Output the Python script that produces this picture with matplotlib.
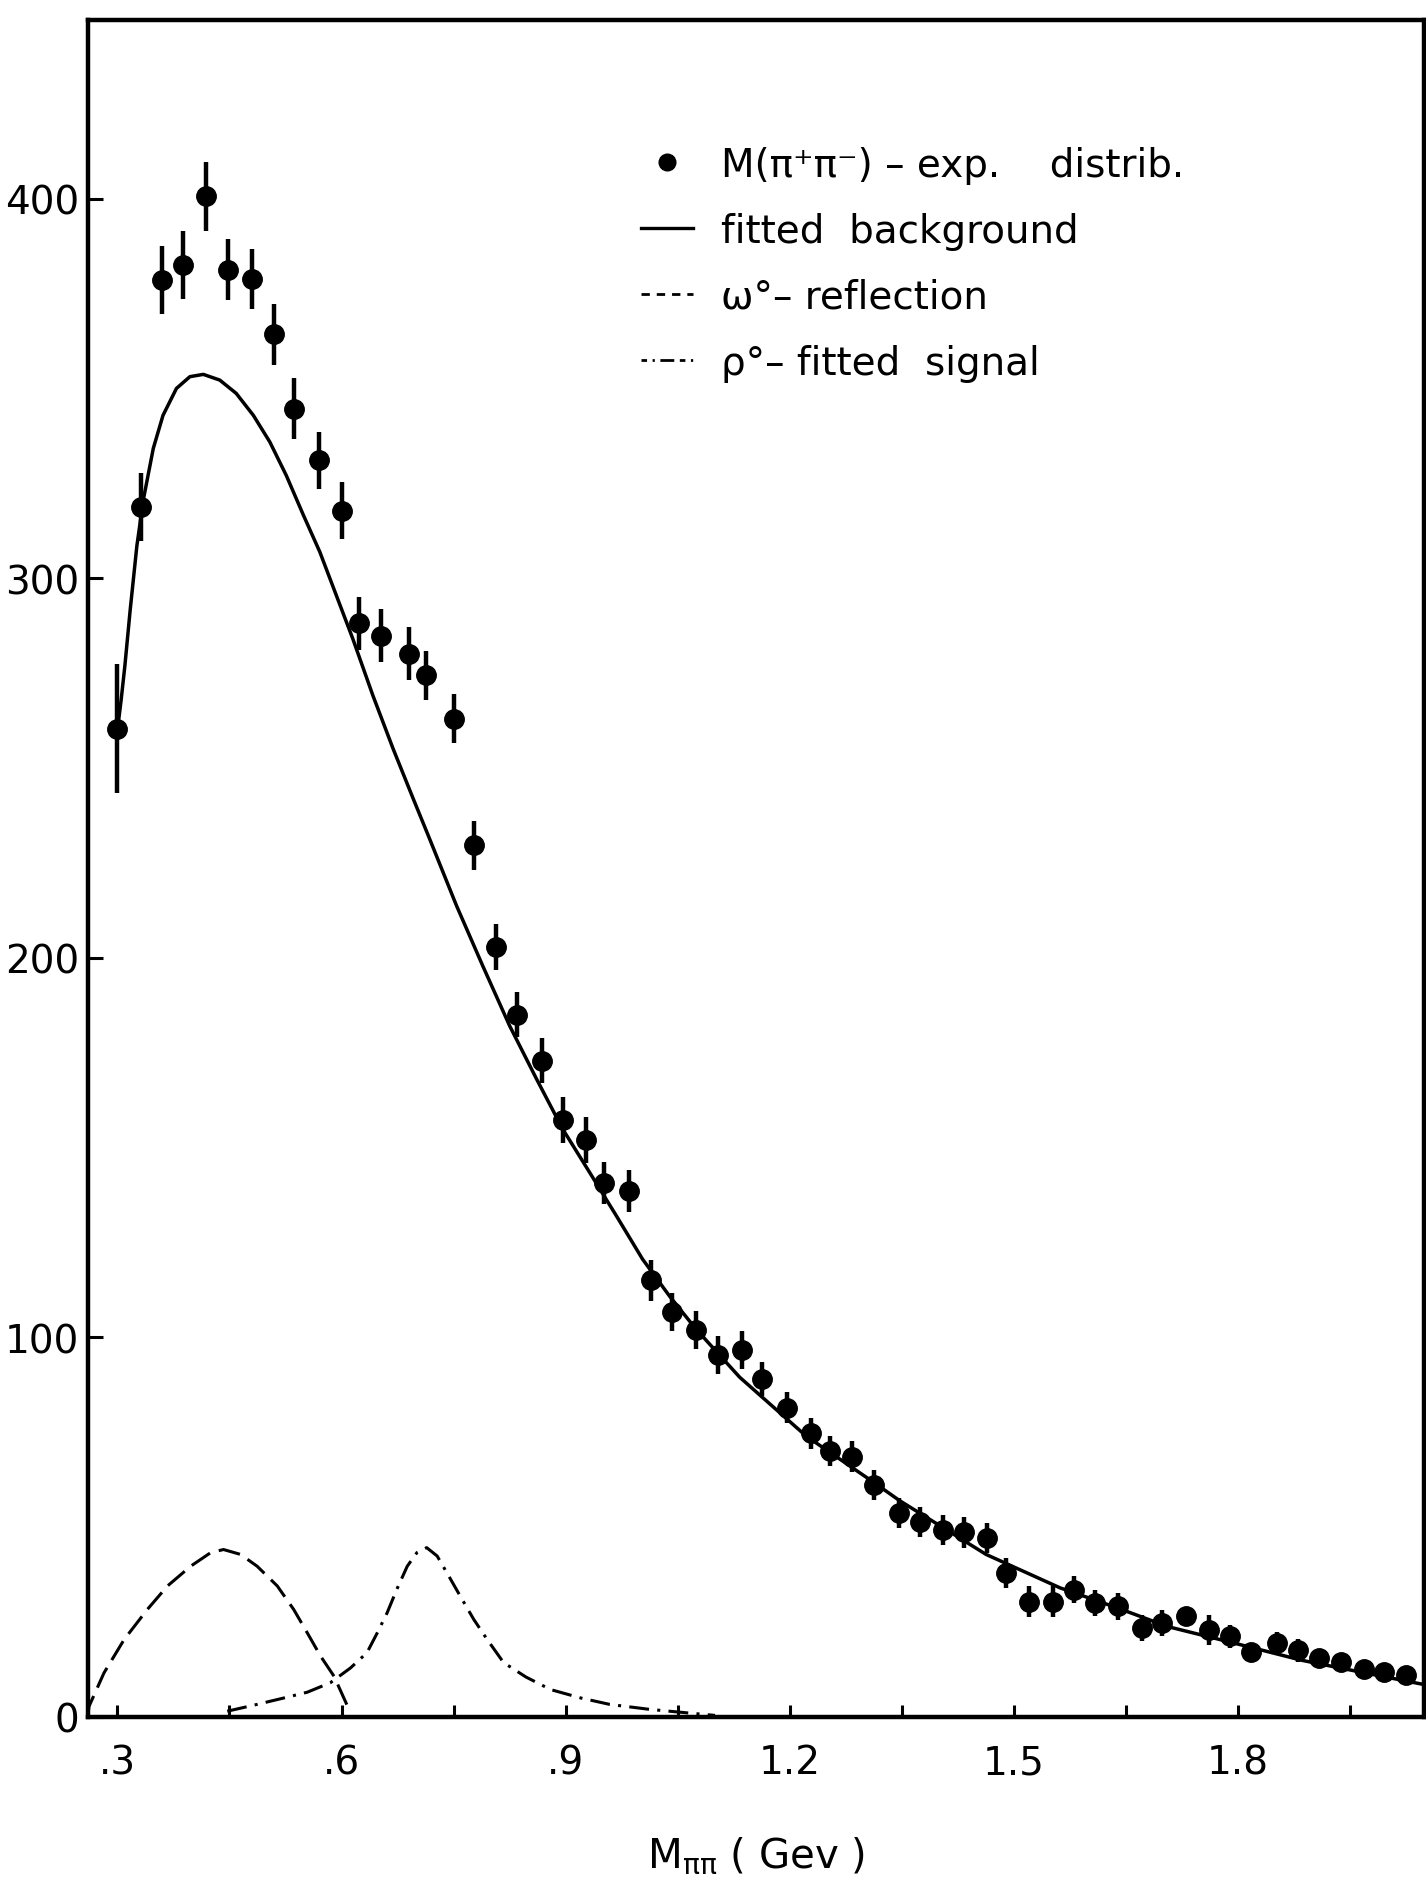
"""
pipi_mass_spectrum.py
---------------------
Redraw of the M(pi+ pi-) invariant mass distribution with the fitted
background, the omega reflection and the fitted rho signal.

Produces:
    out.png
"""

import matplotlib
matplotlib.use("Agg")

import matplotlib.pyplot as plt
from matplotlib.lines import Line2D
from matplotlib.ticker import FixedLocator, FixedFormatter


# ---------------------------------------------------------
# Data
# ---------------------------------------------------------
mass = [0.300, 0.332, 0.359, 0.388, 0.419, 0.448, 0.480, 0.510, 0.537, 0.570,
        0.600, 0.624, 0.653, 0.690, 0.713, 0.750, 0.777, 0.807, 0.835, 0.868,
        0.896, 0.927, 0.951, 0.985, 1.014, 1.043, 1.075, 1.104, 1.136, 1.163,
        1.196, 1.228, 1.254, 1.284, 1.313, 1.347, 1.374, 1.405, 1.433, 1.464,
        1.489, 1.521, 1.552, 1.580, 1.609, 1.640, 1.671, 1.699, 1.731, 1.761,
        1.790, 1.818, 1.852, 1.881, 1.908, 1.938, 1.969, 1.995, 2.025]

counts = [260.3, 318.7, 378.5, 382.6, 400.6, 381.3, 378.8, 364.3, 344.7, 331.1,
          317.8, 288.1, 284.9, 280.1, 274.4, 263.0, 229.6, 202.8, 185.0, 172.9,
          157.2, 152.0, 140.6, 138.6, 115.0, 106.6, 102.0, 95.3, 96.6, 89.0,
          81.5, 74.7, 70.1, 68.6, 61.1, 53.8, 51.3, 49.2, 48.6, 47.1,
          37.9, 30.4, 30.4, 33.5, 30.0, 29.1, 23.4, 24.7, 26.6, 22.9,
          21.2, 17.2, 19.4, 17.6, 15.4, 14.5, 12.7, 11.8, 11.0]

count_err = [17, 9, 9, 9, 9, 8, 8, 8, 8, 7.5,
             7.5, 7, 7, 7, 6.5, 6.5, 6.5, 6, 6, 6,
             6, 6, 5.5, 5.5, 5.5, 5, 5, 5, 5, 4.5,
             4, 4, 4, 4, 4, 4, 4, 4, 4, 4,
             4, 4, 4, 3.5, 3.5, 3.5, 3.5, 3.5, 0, 4,
             3, 0, 3, 3, 2, 2, 2, 2, 2]

bg_mass = [0.300, 0.305, 0.310, 0.317, 0.326, 0.335, 0.348, 0.361, 0.379, 0.397,
           0.415, 0.437, 0.459, 0.482, 0.504, 0.526, 0.549, 0.571, 0.593, 0.615,
           0.642, 0.669, 0.696, 0.718, 0.754, 0.789, 0.825, 0.861, 0.896, 0.932,
           0.968, 1.003, 1.039, 1.074, 1.133, 1.222, 1.311, 1.347, 1.463, 1.562,
           1.639, 1.706, 1.796, 1.886, 1.975, 2.050]
bg_counts = [260.0, 268.0, 277.0, 291.5, 308.5, 321.0, 334.2, 342.9, 350.0, 353.1,
             353.7, 352.2, 348.7, 342.9, 335.9, 327.1, 316.6, 306.9, 295.5, 284.1,
             269.1, 255.1, 241.9, 231.3, 213.7, 197.9, 182.1, 168.1, 154.9, 143.5,
             132.0, 120.6, 110.9, 102.3, 89.5, 74.0, 62.0, 57.0, 42.8, 34.0,
             28.7, 23.8, 19.4, 14.9, 11.4, 8.5]

omega_mass = [0.260, 0.262, 0.282, 0.309, 0.340, 0.367, 0.398, 0.425, 0.442, 0.465,
              0.487, 0.514, 0.536, 0.554, 0.572, 0.590, 0.612]
omega_counts = [0.0, 2.8, 11.6, 20.4, 28.3, 34.5, 39.7, 43.3, 44.1, 42.8,
                39.7, 34.5, 28.3, 22.2, 16.0, 10.7, 1.1]

rho_mass = [0.447, 0.487, 0.523, 0.554, 0.585, 0.612, 0.634, 0.648, 0.661, 0.674,
            0.688, 0.701, 0.714, 0.728, 0.741, 0.759, 0.777, 0.795, 0.817, 0.847,
            0.880, 0.920, 0.959, 1.012, 1.061, 1.100]
rho_counts = [1.5, 3.3, 5.0, 6.5, 9.0, 12.9, 16.9, 22.2, 27.4, 33.6,
              39.7, 43.3, 44.6, 42.4, 38.0, 31.8, 25.7, 20.4, 14.3, 10.5,
              7.2, 5.0, 3.3, 2.0, 1.1, 0.4]

x_ticks = [0.30, 0.45, 0.60, 0.75, 0.90, 1.05, 1.20, 1.35, 1.50, 1.65, 1.80, 1.95]
x_tick_labels = [".3", "", ".6", "", ".9", "", "1.2", "", "1.5", "", "1.8", ""]
y_ticks = [0, 100, 200, 300, 400]
y_tick_labels = ["0", "100", "200", "300", "400"]

legend_labels = [
    "M(π\u207aπ\u207b) \u2013 exp.    distrib.",
    "fitted  background",
    "ω\u00b0\u2013 reflection",
    "ρ\u00b0\u2013 fitted  signal",
]


# ---------------------------------------------------------
# Plot
# ---------------------------------------------------------
def main():
    plt.rcParams["font.family"] = ["DejaVu Sans"]

    fig = plt.figure(figsize=(14.26, 18.81), dpi=100)
    ax = fig.add_axes([0.0614, 0.0867, 0.9371, 0.902])

    ink = "black"

    ax.plot(bg_mass, bg_counts, color=ink, lw=2.5, solid_capstyle="round")
    ax.plot(omega_mass, omega_counts, color=ink, lw=2.2,
            linestyle=(0, (7.2, 3.0)))
    ax.plot(rho_mass, rho_counts, color=ink, lw=2.2,
            linestyle=(0, (6.5, 2.7, 1.0, 2.7)))

    ax.errorbar(mass, counts, yerr=count_err, fmt="o", color=ink,
                markersize=14, elinewidth=3.2, capsize=0, zorder=3)

    ax.set_xlim(0.26, 2.049)
    ax.set_ylim(0, 447)

    ax.xaxis.set_major_locator(FixedLocator(x_ticks))
    ax.xaxis.set_major_formatter(FixedFormatter(x_tick_labels))
    ax.yaxis.set_major_locator(FixedLocator(y_ticks))
    ax.yaxis.set_major_formatter(FixedFormatter(y_tick_labels))

    ax.tick_params(axis="x", direction="in", length=9, width=2.2,
                   labelsize=28, pad=19, colors=ink)
    ax.tick_params(axis="y", direction="in", length=11, width=2.2,
                   labelsize=28, pad=6, colors=ink)

    for side in ["left", "right", "top", "bottom"]:
        ax.spines[side].set_linewidth(3.2)
        ax.spines[side].set_color(ink)

    ax.set_xlabel(r"M$_{\mathrm{ππ}}$ ( Gev )", fontsize=29, labelpad=38)

    handles = [
        Line2D([], [], color=ink, marker="o", linestyle="none", markersize=12),
        Line2D([], [], color=ink, lw=2.4),
        Line2D([], [], color=ink, lw=2.0, linestyle=(0, (3, 2.5))),
        Line2D([], [], color=ink, lw=2.0, linestyle=(0, (2, 2, 0.8, 2, 5, 2))),
    ]
    ax.legend(handles, legend_labels, loc="upper left",
              bbox_to_anchor=(0.414, 0.926), frameon=False, fontsize=28,
              handlelength=1.35, handletextpad=0.72, labelspacing=0.72,
              borderpad=0, borderaxespad=0)

    fig.savefig("out.png", dpi=100, facecolor="white")
    plt.close(fig)


if __name__ == "__main__":
    main()
